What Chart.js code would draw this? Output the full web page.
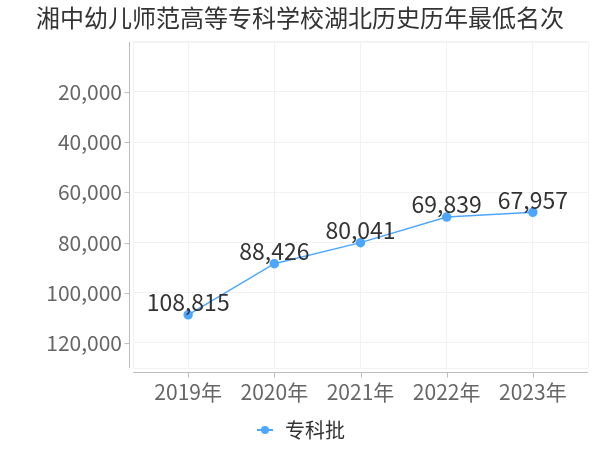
<!DOCTYPE html>
<html><head><meta charset="utf-8">
<script src="https://cdn.jsdelivr.net/npm/chart.js@4.4.1/dist/chart.umd.min.js"></script>
<style>html,body{margin:0;padding:0;background:#fff}#wrap{width:600px;height:450px}</style>
</head><body><div id="wrap"><canvas id="c"></canvas></div>
<script>
const titleText = '湘中幼儿师范高等专科学校湖北历史历年最低名次';
const categories = ['2019年','2020年','2021年','2022年','2023年'];
const seriesName = '专科批';
const values = [108815, 88426, 80041, 69839, 67957];
const yTicks = [0, 20000, 40000, 60000, 80000, 100000, 120000];

const FONT = '"Noto Sans CJK SC", "Noto Sans", sans-serif';
const LINE = '#4da6ff';

function fmt(v){ return v.toLocaleString('en-US'); }

const icon = document.createElement('canvas');
icon.width = 16; icon.height = 10;
(function(){
  const g = icon.getContext('2d');
  g.strokeStyle = LINE; g.lineWidth = 2;
  g.beginPath(); g.moveTo(0,5); g.lineTo(16,5); g.stroke();
  g.fillStyle = LINE; g.beginPath(); g.arc(8,5,4,0,Math.PI*2); g.fill();
})();

const decor = {
  id: 'decor',
  beforeDatasetsDraw(chart){
    const {ctx, chartArea:a, scales} = chart;
    ctx.save();
    ctx.strokeStyle = '#bdbdbd'; ctx.lineWidth = 1;
    const yx = Math.round(a.left - 4) + 0.5;
    ctx.beginPath(); ctx.moveTo(yx, a.top); ctx.lineTo(yx, a.bottom); ctx.stroke();
    scales.y.ticks.forEach(t => {
      if (!t.value) return;
      const py = Math.round(scales.y.getPixelForValue(t.value)) + 0.5;
      ctx.beginPath(); ctx.moveTo(yx - 5, py); ctx.lineTo(yx, py); ctx.stroke();
    });
    const xy = Math.round(a.bottom + 4) + 0.5;
    ctx.beginPath(); ctx.moveTo(a.left, xy); ctx.lineTo(a.right, xy); ctx.stroke();
    scales.x.ticks.forEach(t => {
      const px = Math.round(scales.x.getPixelForValue(t.value)) + 0.5;
      ctx.beginPath(); ctx.moveTo(px, xy); ctx.lineTo(px, xy + 5); ctx.stroke();
    });
    ctx.strokeStyle = '#f2f2f2';
    ctx.strokeRect(Math.round(a.left)+0.5, Math.round(a.top)+0.5, Math.round(a.right-a.left), Math.round(a.bottom-a.top));
    ctx.restore();
  },
  afterDatasetsDraw(chart){
    const {ctx} = chart;
    const meta = chart.getDatasetMeta(0);
    ctx.save();
    ctx.font = '23px ' + FONT;
    ctx.fillStyle = '#333';
    ctx.textAlign = 'center';
    ctx.textBaseline = 'bottom';
    meta.data.forEach((p, i) => {
      ctx.fillText(fmt(values[i]), p.x, p.y - 1);
    });
    ctx.restore();
  }
};

new Chart(document.getElementById('c'), {
  type: 'line',
  data: {
    datasets: [{
      label: seriesName,
      data: values.map((v, i) => ({x: i, y: v})),
      borderColor: LINE,
      backgroundColor: LINE,
      borderWidth: 1.5,
      pointRadius: 4,
      pointHoverRadius: 4,
      tension: 0
    }]
  },
  options: {
    responsive: true,
    maintainAspectRatio: false,
    animation: false,
    layout: { padding: { left: 12, right: 12, top: 0, bottom: 0 } },
    plugins: {
      title: {
        display: true, text: titleText, color: '#333',
        font: { family: FONT, size: 24, weight: 'normal' },
        padding: { top: 3, bottom: 10 }
      },
      legend: {
        position: 'bottom',
        padding: 4,
        labels: {
          font: { family: FONT, size: 20 },
          color: '#333',
          usePointStyle: true,
          padding: 6,
          generateLabels(){ return [{ text: seriesName, pointStyle: icon, fillStyle: LINE, strokeStyle: LINE, lineWidth: 0, fontColor: '#333', datasetIndex: 0 }]; }
        }
      },
      tooltip: { enabled: false }
    },
    scales: {
      x: {
        type: 'linear', min: -0.64, max: 4.64,
        afterBuildTicks(s){ s.ticks = categories.map((c, i) => ({value: i})); },
        afterFit(s){ s.height = 46; },
        ticks: {
          callback: (v) => categories[v] || '',
          color: '#666', font: { family: FONT, size: 21 }, padding: 11, maxRotation: 0, autoSkip: false
        },
        grid: { color: '#f2f2f2', drawTicks: false },
        border: { display: false }
      },
      y: {
        type: 'linear', reverse: true, min: 0, max: 130000,
        afterBuildTicks(s){ s.ticks = yTicks.map(v => ({value: v})); },
        afterFit(s){ s.width = 121; },
        ticks: {
          callback: (v) => v ? fmt(v) : '',
          color: '#666', font: { family: FONT, size: 21 }, padding: 11
        },
        grid: { color: '#f2f2f2', drawTicks: false },
        border: { display: false }
      }
    }
  },
  plugins: [decor]
});
</script></body></html>
